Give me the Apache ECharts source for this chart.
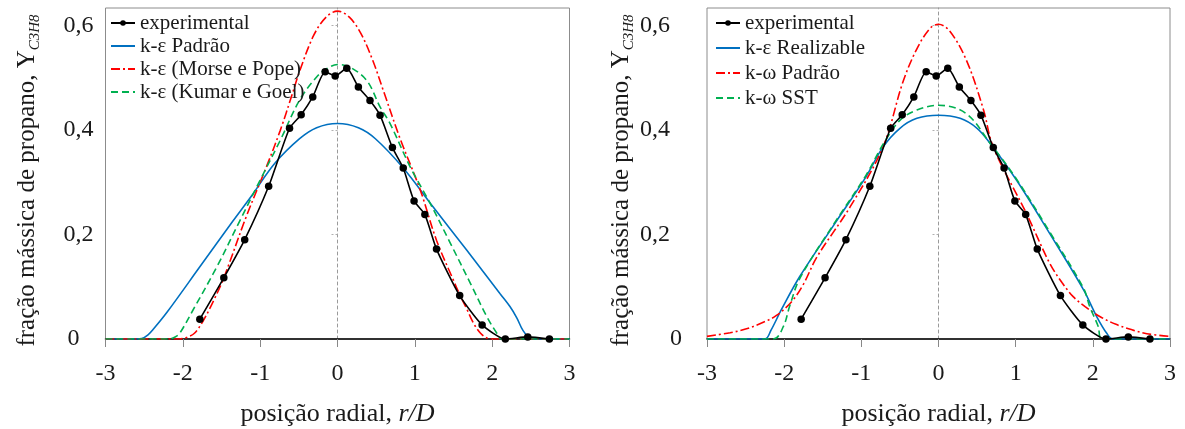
<!DOCTYPE html>
<html>
<head>
<meta charset="utf-8">
<script src="https://cdn.jsdelivr.net/npm/echarts@6/dist/echarts.min.js"></script>
<style>
  html, body { margin: 0; padding: 0; background: #fff; }
  #chart { width: 1185px; height: 429px; }
</style>
</head>
<body>
<div id="chart"></div>
<script>
// Experimental radial profile of propane mass fraction (same in both panels)
const expX = [-1.78, -1.47, -1.20, -0.89, -0.62, -0.47, -0.32, -0.16, -0.03, 0.12, 0.27, 0.42, 0.55, 0.71, 0.85, 0.99, 1.13, 1.28, 1.58, 1.87, 2.17, 2.46, 2.74];
const expY = [0.038, 0.117, 0.190, 0.292, 0.403, 0.429, 0.463, 0.511, 0.503, 0.518, 0.482, 0.456, 0.428, 0.366, 0.327, 0.264, 0.238, 0.172, 0.083, 0.027, 0.000, 0.004, 0.000];

// Left panel: k-epsilon variants
const kePadraoX = [-3, -2.60, -2.53, -2.45, -2.38, -2.20, -1.78, -1.35, -1.11, -0.81, -0.49, -0.27, 0, 0.27, 0.49, 0.85, 1.24, 1.67, 2.10, 2.23, 2.32, 2.40, 2.49, 2.60, 3];
const kePadraoY = [0, 0, 0.001, 0.008, 0.019, 0.052, 0.138, 0.226, 0.274, 0.336, 0.383, 0.404, 0.412, 0.404, 0.383, 0.327, 0.252, 0.170, 0.087, 0.062, 0.040, 0.016, 0.002, 0, 0];

const keMorseX = [-3, -2.05, -1.95, -1.85, -1.74, -1.60, -1.47, -1.18, -0.92, -0.74, -0.59, -0.49, -0.31, -0.15, 0, 0.15, 0.30, 0.45, 0.60, 0.81, 1.07, 1.28, 1.50, 1.58, 1.67, 1.76, 1.85, 1.93, 2.00, 3];
const keMorseY = [0, 0, 0.003, 0.011, 0.034, 0.074, 0.117, 0.234, 0.329, 0.399, 0.466, 0.512, 0.580, 0.615, 0.627, 0.616, 0.585, 0.535, 0.472, 0.383, 0.285, 0.189, 0.112, 0.085, 0.058, 0.030, 0.011, 0.002, 0, 0];

const keKumarX = [-3, -2.19, -2.10, -2.04, -1.87, -1.56, -1.26, -1.00, -0.74, -0.49, -0.27, -0.14, 0, 0.16, 0.38, 0.55, 0.68, 0.94, 1.20, 1.46, 1.72, 1.93, 2.06, 2.12, 3];
const keKumarY = [0, 0, 0.004, 0.011, 0.055, 0.138, 0.227, 0.304, 0.380, 0.457, 0.501, 0.517, 0.525, 0.520, 0.494, 0.444, 0.412, 0.329, 0.259, 0.183, 0.106, 0.043, 0.011, 0, 0];

// Right panel: realizable k-epsilon and k-omega variants
const keRealX = [-3, -2.25, -2.17, -2.04, -1.80, -1.37, -0.94, -0.72, -0.50, -0.28, 0, 0.28, 0.50, 0.67, 1.01, 1.44, 1.88, 2.05, 2.18, 2.26, 3];
const keRealY = [0, 0, 0.017, 0.055, 0.119, 0.215, 0.310, 0.367, 0.403, 0.422, 0.428, 0.422, 0.403, 0.374, 0.304, 0.202, 0.094, 0.043, 0.011, 0, 0];

const kwPadraoX = [-3, -2.70, -2.50, -2.30, -2.10, -1.90, -1.75, -1.575, -1.144, -0.72, -0.46, -0.28, -0.11, 0, 0.15, 0.365, 0.58, 0.71, 1.14, 1.44, 1.60, 1.745, 1.90, 2.09, 2.30, 2.52, 2.70, 3];
const kwPadraoY = [0.005, 0.012, 0.019, 0.030, 0.045, 0.072, 0.105, 0.157, 0.253, 0.367, 0.492, 0.555, 0.594, 0.602, 0.588, 0.532, 0.440, 0.367, 0.240, 0.145, 0.108, 0.081, 0.062, 0.043, 0.028, 0.017, 0.010, 0.005];

const kwSstX = [-3, -2.14, -2.01, -1.93, -1.80, -1.37, -0.94, -0.72, -0.50, -0.28, 0, 0.36, 0.67, 1.01, 1.44, 1.88, 1.96, 2.07, 2.12, 3];
const kwSstY = [0, 0, 0.024, 0.062, 0.115, 0.217, 0.313, 0.372, 0.418, 0.438, 0.447, 0.431, 0.374, 0.306, 0.205, 0.097, 0.062, 0.024, 0, 0];

// Axis ticks
const xMin = -3, xMax = 3, xStep = 1;
const yTicks = [0, 0.2, 0.4, 0.6];
const yMax = 0.633;

const serif = 'Liberation Serif';
const txt = '#1a1a1a';
const BLUE = '#0070C0', RED = '#FF0000', GREEN = '#00B050';

const pairs = (xs, ys) => xs.map((x, i) => [x, ys[i]]);
const fmtY = v => (v === 0 ? '0' : v.toFixed(1).replace('.', ','));

function xAxisFor(g) {
  return {
    type: 'value', gridIndex: g, min: xMin, max: xMax, interval: xStep,
    name: '{t|posição radial, }{i|r/D}',
    nameLocation: 'middle', nameGap: 62,
    nameTextStyle: {
      rich: {
        t: { fontFamily: serif, fontSize: 26, color: txt },
        i: { fontFamily: serif, fontSize: 26, fontStyle: 'italic', color: txt }
      }
    },
    axisLine: { show: true, onZero: false, lineStyle: { color: '#000', width: 1.5 } },
    axisTick: { show: true, inside: false, length: 8, lineStyle: { color: '#888', width: 1 } },
    axisLabel: { margin: 23, fontFamily: serif, fontSize: 24, color: txt },
    splitLine: { show: false }
  };
}

function yLabelAxis(g, margin, padNonZero, padZero, nameGap) {
  return {
    type: 'value', gridIndex: g, min: 0, max: yMax, position: 'left',
    name: '{t|fração mássica de propano, }{y|Y}{s|C3H8}',
    nameLocation: 'middle', nameRotate: 90, nameGap: nameGap,
    nameTextStyle: {
      rich: {
        t: { fontFamily: serif, fontSize: 25, color: txt, lineHeight: 30 },
        y: { fontFamily: serif, fontSize: 25, color: txt, lineHeight: 30 },
        s: { fontFamily: serif, fontSize: 15, fontStyle: 'italic', color: txt, verticalAlign: 'bottom', lineHeight: 18, padding: [0, 14, 0, 0] }
      }
    },
    axisLine: { show: false, onZero: false },
    axisTick: { show: false },
    axisLabel: {
      customValues: yTicks, margin: margin,
      formatter: v => (v === 0 ? '{z|0}' : '{n|' + fmtY(v) + '}'),
      rich: {
        n: { fontFamily: serif, fontSize: 24, color: txt, padding: [0, padNonZero, 0, 0] },
        z: { fontFamily: serif, fontSize: 24, color: txt, padding: [0, padZero, 0, 0] }
      }
    },
    splitLine: { show: false }
  };
}

// Dashed centre line at r/D = 0 with small ticks
function yCentreAxis(g) {
  return {
    type: 'value', gridIndex: g, min: 0, max: yMax, position: 'left',
    axisLine: { show: true, onZero: true, lineStyle: { color: '#9a9a9a', width: 1, type: [3, 3] } },
    axisTick: { show: true, customValues: [0.2, 0.4, 0.6], length: 8, lineStyle: { color: '#b0b0b0', width: 1, type: [2, 2] } },
    axisLabel: { show: false },
    splitLine: { show: false }
  };
}

function model(name, xs, ys, xi, yi, color, type) {
  return {
    name, type: 'line', xAxisIndex: xi, yAxisIndex: yi,
    data: pairs(xs, ys), smooth: 0.35, symbol: 'none',
    lineStyle: { color, width: 1.6, type },
    itemStyle: { color }, z: 3
  };
}
function experimental(xi, yi) {
  return {
    name: 'experimental', type: 'line', xAxisIndex: xi, yAxisIndex: yi,
    data: pairs(expX, expY), smooth: 0.2,
    symbol: 'circle', symbolSize: 7.5, showSymbol: true,
    lineStyle: { color: '#000', width: 1.6 },
    itemStyle: { color: '#000' }, z: 5
  };
}

const legendText = { fontFamily: serif, fontSize: 21, color: txt };
const DASHDOT = [9, 3, 2, 3], DASH = [7, 4];
// legend entries for the model curves show the line only
const lineOnly = name => ({ name, itemStyle: { opacity: 0 } });

const option = {
  backgroundColor: '#fff',
  animation: false,
  grid: [
    { left: 105.5, top: 8, width: 464, height: 331, show: true, borderColor: '#8c8c8c', borderWidth: 1, outerBoundsMode: 'none' },
    { left: 707, top: 8, width: 463, height: 331, show: true, borderColor: '#8c8c8c', borderWidth: 1, outerBoundsMode: 'none' }
  ],
  xAxis: [xAxisFor(0), xAxisFor(1)],
  yAxis: [yLabelAxis(0, 12, 0, 14, 63), yCentreAxis(0), yLabelAxis(1, 25, 12, 0, 67), yCentreAxis(1)],
  legend: [
    { orient: 'vertical', left: 110, top: 12.5, padding: 0, itemWidth: 24, itemHeight: 7, itemGap: 2, selectedMode: false,
      textStyle: legendText,
      data: ['experimental', lineOnly('k-ε Padrão'), lineOnly('k-ε (Morse e Pope)'), lineOnly('k-ε (Kumar e Goel)')] },
    { orient: 'vertical', left: 715, top: 12.5, padding: 0, itemWidth: 24, itemHeight: 7, itemGap: 4, selectedMode: false,
      textStyle: legendText,
      data: ['experimental', lineOnly('k-ε Realizable'), lineOnly('k-ω Padrão'), lineOnly('k-ω SST')] }
  ],
  series: [
    model('k-ε Padrão', kePadraoX, kePadraoY, 0, 0, BLUE, 'solid'),
    model('k-ε (Morse e Pope)', keMorseX, keMorseY, 0, 0, RED, DASHDOT),
    model('k-ε (Kumar e Goel)', keKumarX, keKumarY, 0, 0, GREEN, DASH),
    experimental(0, 0),
    model('k-ε Realizable', keRealX, keRealY, 1, 2, BLUE, 'solid'),
    model('k-ω Padrão', kwPadraoX, kwPadraoY, 1, 2, RED, DASHDOT),
    model('k-ω SST', kwSstX, kwSstY, 1, 2, GREEN, DASH),
    experimental(1, 2)
  ]
};

const chart = echarts.init(document.getElementById('chart'), null, { renderer: 'canvas' });
chart.setOption(option);
</script>
</body>
</html>
